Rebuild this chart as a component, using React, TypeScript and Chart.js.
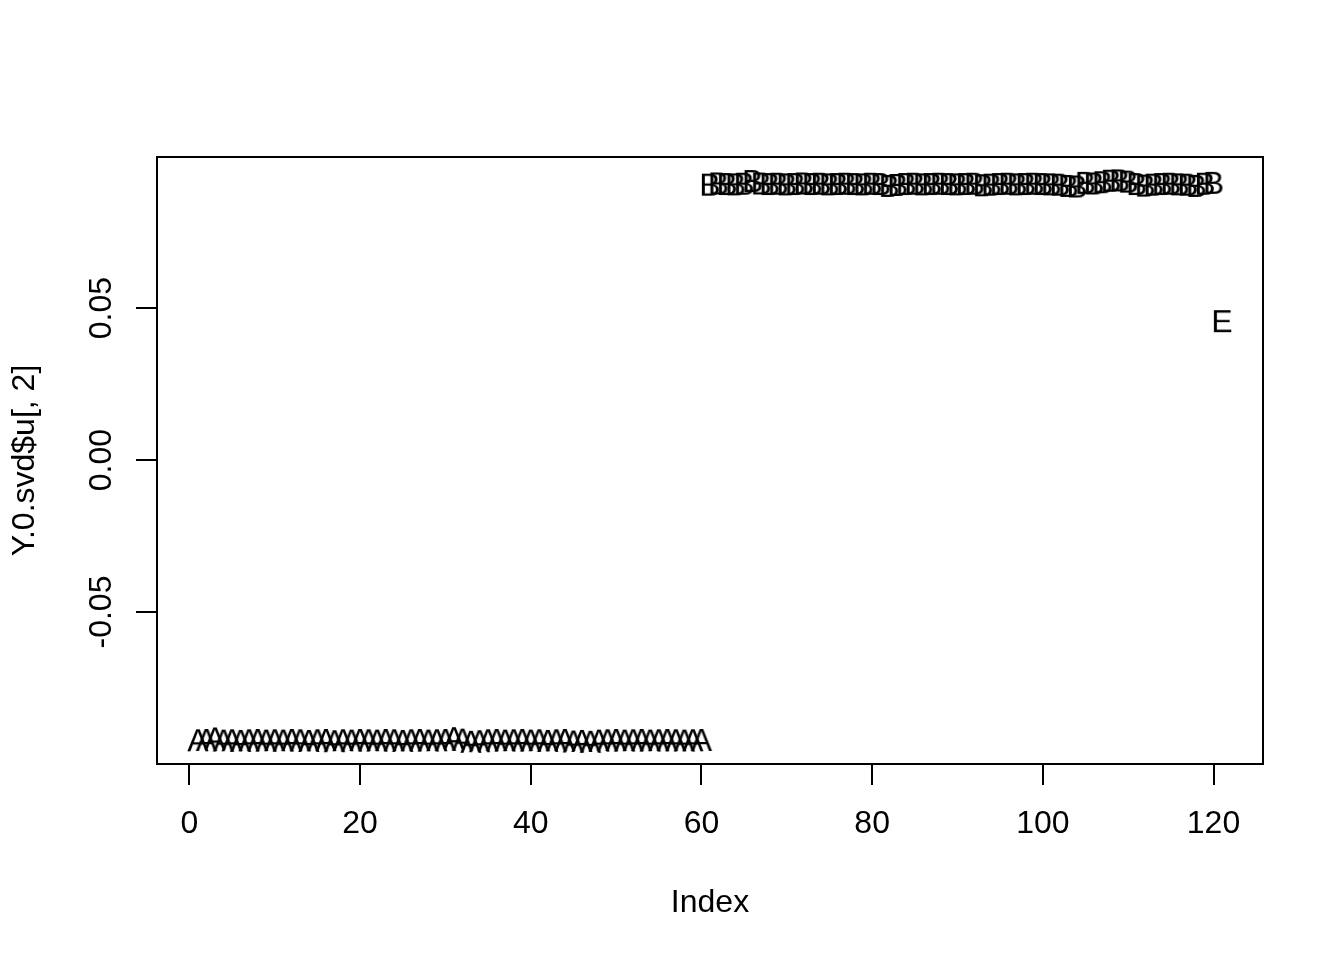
import React, { useEffect, useRef } from "react";
import { Chart, registerables } from "chart.js";

Chart.register(...registerables);

// ---- data ----
const groupAIndex: number[] = Array.from({ length: 60 }, (_, i) => i + 1);
const groupAValues: number[] = [
  -0.0922, -0.0921, -0.0916, -0.0923, -0.0922, -0.0924, -0.0922, -0.0921, -0.0923, -0.0922,
  -0.0923, -0.0921, -0.0922, -0.0924, -0.0922, -0.0921, -0.0925, -0.0922, -0.0923, -0.0921,
  -0.0922, -0.0923, -0.0921, -0.0922, -0.0924, -0.0922, -0.0921, -0.0923, -0.0922, -0.0921,
  -0.0915, -0.0920, -0.0927, -0.0925, -0.0922, -0.0921, -0.0923, -0.0922, -0.0921, -0.0923,
  -0.0922, -0.0924, -0.0922, -0.0921, -0.0926, -0.0924, -0.0927, -0.0923, -0.0922, -0.0921,
  -0.0923, -0.0922, -0.0921, -0.0923, -0.0922, -0.0921, -0.0922, -0.0923, -0.0922, -0.0921,
];
const groupBIndex: number[] = Array.from({ length: 60 }, (_, i) => i + 61);
const groupBValues: number[] = [
  0.0906, 0.0910, 0.0908, 0.0907, 0.0909, 0.0918, 0.0910, 0.0908, 0.0909, 0.0907,
  0.0908, 0.0910, 0.0908, 0.0909, 0.0907, 0.0908, 0.0909, 0.0908, 0.0907, 0.0909,
  0.0908, 0.0902, 0.0905, 0.0908, 0.0909, 0.0907, 0.0908, 0.0909, 0.0908, 0.0907,
  0.0908, 0.0909, 0.0904, 0.0906, 0.0908, 0.0909, 0.0907, 0.0908, 0.0909, 0.0908,
  0.0907, 0.0906, 0.0902, 0.0900, 0.0912, 0.0910, 0.0914, 0.0919, 0.0920, 0.0916,
  0.0908, 0.0903, 0.0906, 0.0908, 0.0909, 0.0907, 0.0906, 0.0902, 0.0909, 0.0912,
];
const groupEIndex: number[] = [121];
const groupEValues: number[] = [0.0457];

const xTicks: number[] = [0, 20, 40, 60, 80, 100, 120];
const yTicks: number[] = [-0.05, 0, 0.05];
const xTitle = "Index";
const yTitle = "Y.0.svd$u[, 2]";

// ---- style ----
const FONT_FAMILY = '"Liberation Sans", Arial, Helvetica, sans-serif';
const FONT_SIZE = 32;
const CAP = 0.716;

function makeLabel(text: string): HTMLCanvasElement {
  const c = document.createElement("canvas");
  const probe = c.getContext("2d")!;
  probe.font = `${FONT_SIZE}px ${FONT_FAMILY}`;
  let w = Math.ceil(probe.measureText(text).width) + 4;
  if (w % 2) w += 1;
  const h = FONT_SIZE * 2;
  c.width = w;
  c.height = h;
  const ctx = c.getContext("2d")!;
  ctx.font = `${FONT_SIZE}px ${FONT_FAMILY}`;
  ctx.fillStyle = "#000";
  ctx.textAlign = "center";
  ctx.textBaseline = "alphabetic";
  ctx.fillText(text, w / 2, h / 2 + (CAP * FONT_SIZE) / 2);
  return c;
}

const boxAndYLabels = {
  id: "boxAndYLabels",
  afterDraw(chart: any) {
    const { ctx, chartArea } = chart;
    ctx.save();
    ctx.strokeStyle = "#000";
    ctx.lineWidth = 2;
    ctx.strokeRect(
      chartArea.left,
      chartArea.top,
      chartArea.right - chartArea.left,
      chartArea.bottom - chartArea.top
    );
    const y = chart.scales.y;
    ctx.font = `${FONT_SIZE}px ${FONT_FAMILY}`;
    ctx.fillStyle = "#000";
    ctx.textAlign = "center";
    ctx.textBaseline = "alphabetic";
    for (const v of yTicks) {
      const py = y.getPixelForValue(v);
      ctx.save();
      ctx.translate(100 + (CAP * FONT_SIZE) / 2, py);
      ctx.rotate(-Math.PI / 2);
      ctx.fillText(v.toFixed(2), 0, 0);
      ctx.restore();
    }
    ctx.restore();
  },
};

export default function App() {
  const ref = useRef<HTMLCanvasElement | null>(null);

  useEffect(() => {
    if (!ref.current) return;
    const mk = (xs: number[], ys: number[]) => xs.map((x, i) => ({ x, y: ys[i] }));
    const chart = new Chart(ref.current, {
      type: "scatter",
      data: {
        datasets: [
          { label: "A", data: mk(groupAIndex, groupAValues), pointStyle: makeLabel("A") as any, pointRadius: 3 },
          { label: "B", data: mk(groupBIndex, groupBValues), pointStyle: makeLabel("B") as any, pointRadius: 3 },
          { label: "E", data: mk(groupEIndex, groupEValues), pointStyle: makeLabel("E") as any, pointRadius: 3 },
        ],
      },
      options: {
        responsive: false,
        animation: false,
        devicePixelRatio: 1,
        layout: { padding: { top: 157, right: 81, left: 0, bottom: 0 } },
        plugins: { legend: { display: false }, tooltip: { enabled: false } },
        scales: {
          x: {
            type: "linear",
            min: -3.8,
            max: 125.8,
            afterBuildTicks: (s: any) => {
              s.ticks = xTicks.map((v) => ({ value: v }));
            },
            afterFit: (s: any) => {
              s.height = 196;
            },
            border: { display: false },
            grid: { drawOnChartArea: false, drawTicks: true, tickLength: 21, color: "#000", lineWidth: 2 },
            ticks: {
              color: "#000",
              padding: 20,
              maxRotation: 0,
              autoSkip: false,
              font: { family: FONT_FAMILY, size: FONT_SIZE },
              callback: (v: any) => String(v),
            },
            title: {
              display: true,
              text: xTitle,
              color: "#000",
              font: { family: FONT_FAMILY, size: FONT_SIZE },
              padding: { top: 0, bottom: 38 },
            },
          },
          y: {
            type: "linear",
            min: -0.1,
            max: 0.0997,
            afterBuildTicks: (s: any) => {
              s.ticks = yTicks.map((v) => ({ value: v }));
            },
            afterFit: (s: any) => {
              s.width = 157;
            },
            border: { display: false },
            grid: { drawOnChartArea: false, drawTicks: true, tickLength: 21, color: "#000", lineWidth: 2 },
            ticks: {
              color: "rgba(0,0,0,0)",
              autoSkip: false,
              font: { family: FONT_FAMILY, size: FONT_SIZE },
              callback: (v: any) => Number(v).toFixed(2),
            },
            title: {
              display: true,
              text: yTitle,
              color: "#000",
              font: { family: FONT_FAMILY, size: FONT_SIZE },
              padding: { top: 6, bottom: 0 },
            },
          },
        },
      },
      plugins: [boxAndYLabels],
    });
    return () => chart.destroy();
  }, []);

  return (
    <div style={{ position: "absolute", left: 0, top: 0, width: 1344, height: 960, background: "#fff" }}>
      <canvas ref={ref} width={1344} height={960} />
    </div>
  );
}
